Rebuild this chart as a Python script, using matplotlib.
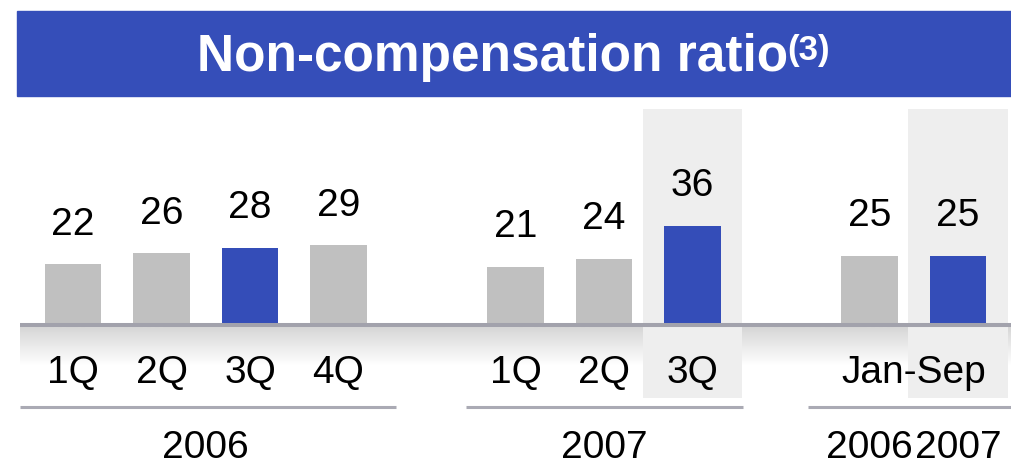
import matplotlib as mpl
mpl.use('Agg')
import matplotlib.pyplot as plt
import numpy as np

plt.rcParams['font.family'] = ['Liberation Sans', 'DejaVu Sans']

# data
cats_2006 = ['1Q', '2Q', '3Q', '4Q']
vals_2006 = [22, 26, 28, 29]
cats_2007 = ['1Q', '2Q', '3Q']
vals_2007 = [21, 24, 36]
ytd_years = ['2006', '2007']
ytd_vals = [25, 25]
title = 'Non-compensation ratio'
footnote = '(3)'

grey = '#C0C0C0'
blue = '#344DB8'
shade = '#EEEEEE'
rule = '#A2A2AC'

# slot positions (one slot per bar, empty slots between groups)
x_2006 = np.arange(4)
x_2007 = np.arange(5, 8)
x_ytd = np.array([9, 10])

W, H = 1011, 466
fig = plt.figure(figsize=(W / 100, H / 100), dpi=100)
ax = fig.add_axes([0, 0, 1, 1])
ax.axis('off')

# pixel layout -> data limits
slot_px, x0_px = 88.5, 73.0
unit_px, base_px = 2.72, 324.0
ax.set_xlim(-x0_px / slot_px, (W - x0_px) / slot_px)
ax.set_ylim(-(H - base_px) / unit_px, base_px / unit_px)

def py(p):
    # pixel row (from top) -> data y
    return (base_px - p) / unit_px

# title band
ax.add_patch(plt.Rectangle((17 / W, 1 - 96 / H), 1 - 17 / W, 85 / H,
                           transform=ax.transAxes, color='#354EB9', zorder=1))
ax.text(197 / W, 1 - 71 / H, title, transform=ax.transAxes, color='white',
        fontsize=37, fontweight='bold', ha='left', va='baseline', zorder=2)
ax.text(787 / W, 1 - 60 / H, footnote, transform=ax.transAxes, color='white',
        fontsize=25, fontweight='bold', ha='left', va='baseline', zorder=2)

xl, xr = ax.get_xlim()
x_start = (20 - x0_px) / slot_px

# gradient band under the axis line
grad = np.linspace(0.84, 1.0, 64).reshape(-1, 1)
ax.imshow(grad, cmap='gray', vmin=0, vmax=1, aspect='auto',
          extent=(x_start, xr, py(366), py(327)), zorder=1, interpolation='bilinear')

# highlight columns
for xc in [x_2007[-1], x_ytd[-1]]:
    ax.add_patch(plt.Rectangle((xc - 0.56, py(398)), 1.12, py(109) - py(398),
                               color=shade, zorder=2, lw=0))

bw = 0.633
ax.bar(x_2006, vals_2006, bw, color=[grey, grey, blue, grey], zorder=3)
ax.bar(x_2007, vals_2007, bw, color=[grey, grey, blue], zorder=3)
ax.bar(x_ytd, ytd_vals, bw, color=[grey, blue], zorder=3)

# axis line
ax.plot([x_start, xr], [py(325), py(325)], color=rule, lw=2.9,
        solid_capstyle='butt', zorder=4)

lab = dict(fontsize=28, color='black', ha='center', va='center', zorder=5)
for xs, vs in [(x_2006, vals_2006), (x_2007, vals_2007), (x_ytd, ytd_vals)]:
    for x, v in zip(xs, vs):
        ax.annotate(str(v), xy=(x, v), xytext=(0, 28.5), textcoords='offset points', **lab)

for xs, cs in [(x_2006, cats_2006), (x_2007, cats_2007)]:
    for x, c in zip(xs, cs):
        ax.text(x, py(373), c, **lab)
ax.text(x_ytd.mean(), py(373), 'Jan-Sep', **lab)

# group rules and year labels
for a, b in [(x_start, x_2006[-1] + 0.65), (x_2007[0] - 0.56, x_2007[-1] + 0.57),
             (x_ytd[0] - 0.7, xr)]:
    ax.plot([a, b], [py(407), py(407)], color='#AAAAB4', lw=2.2,
            solid_capstyle='butt', zorder=4)
ax.text(x_2006.mean(), py(448), '2006', **lab)
ax.text(x_2007.mean(), py(448), '2007', **lab)
for x, yr in zip(x_ytd, ytd_years):
    ax.text(x, py(448), yr, **lab)

fig.savefig('out.png', dpi=100)
